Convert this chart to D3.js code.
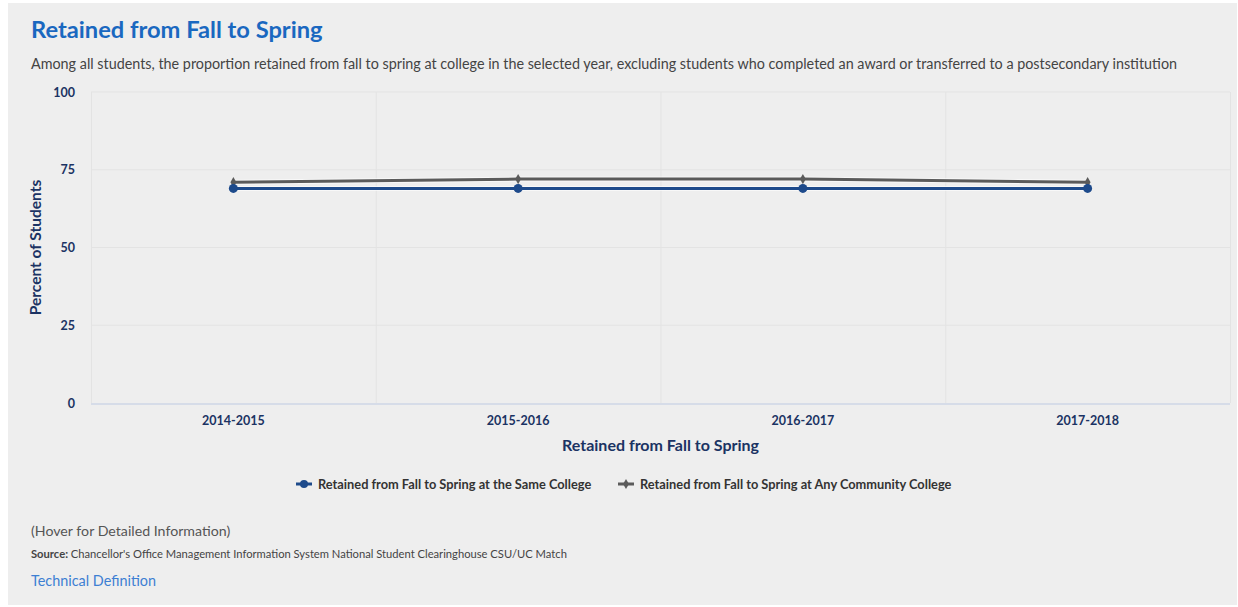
<!DOCTYPE html>
<html>
<head>
<meta charset="utf-8">
<script src="https://cdn.jsdelivr.net/npm/d3@7"></script>
<style>
  body { margin: 0; background: #fff; }
  svg { display: block; font-family: Lato, "Open Sans", sans-serif; }
</style>
</head>
<body>
<svg id="chart"></svg>
<script>
/* DATA */
const years = ["2014-2015", "2015-2016", "2016-2017", "2017-2018"];
const sameCollege = [69, 69, 69, 69];
const anyCollege = [71, 72, 72, 71];
const yTicks = [0, 25, 50, 75, 100];
const seriesNames = [
  "Retained from Fall to Spring at the Same College",
  "Retained from Fall to Spring at Any Community College"
];

/* CONSTANTS */
const width = 1238, height = 607;
const margin = { top: 92, right: 8, bottom: 204, left: 91 };
const navy = "#1b3363";
const blue = "#1d4a8b";
const grey = "#5b5b5b";

const svg = d3.select("#chart")
  .attr("width", width)
  .attr("height", height);

// panel
svg.append("rect")
  .attr("x", 8).attr("y", 3)
  .attr("width", 1229).attr("height", 602)
  .attr("fill", "#eeeeee");

// title + subtitle
svg.append("text")
  .attr("x", 31).attr("y", 38)
  .attr("fill", "#1a68c0")
  .attr("font-size", 23.7).attr("font-weight", 700)
  .text("Retained from Fall to Spring");

svg.append("text")
  .attr("x", 31).attr("y", 69)
  .attr("fill", "#444")
  .attr("font-size", 14.35)
  .text("Among all students, the proportion retained from fall to spring at college in the selected year, excluding students who completed an award or transferred to a postsecondary institution");

/* SCALES */
const xScale = d3.scaleBand()
  .domain(years)
  .range([margin.left, width - margin.right]);

const yScale = d3.scaleLinear()
  .domain([0, 100])
  .range([height - margin.bottom, margin.top]);

// horizontal grid
svg.append("g")
  .selectAll("line")
  .data(yTicks.filter(d => d > 0))
  .join("line")
  .attr("x1", margin.left).attr("x2", width - margin.right)
  .attr("y1", d => yScale(d)).attr("y2", d => yScale(d))
  .attr("stroke", "#e3e3e3");

// vertical grid at band edges
const edges = years.map(d => xScale(d)).concat([xScale.range()[1]]);
svg.append("g")
  .selectAll("line")
  .data(edges)
  .join("line")
  .attr("x1", d => d + 0.5).attr("x2", d => d + 0.5)
  .attr("y1", margin.top).attr("y2", yScale(0))
  .attr("stroke", "#e3e3e3");

// baseline
svg.append("line")
  .attr("x1", margin.left).attr("x2", width - margin.right)
  .attr("y1", yScale(0) + 1).attr("y2", yScale(0) + 1)
  .attr("stroke", "#d6dce8").attr("stroke-width", 2);

/* AXES */
const yAxis = svg.append("g")
  .attr("transform", `translate(${margin.left - 16}, 0)`)
  .call(d3.axisLeft(yScale).tickValues(yTicks).tickSize(0).tickPadding(0));
yAxis.select(".domain").remove();
yAxis.selectAll("text")
  .attr("fill", navy).attr("font-size", 12.5).attr("font-weight", 700)
  .attr("font-family", "Lato, sans-serif");

const xAxis = svg.append("g")
  .attr("transform", `translate(0, ${yScale(0) + 13})`)
  .call(d3.axisBottom(xScale).tickSize(0).tickPadding(0));
xAxis.select(".domain").remove();
xAxis.selectAll("text")
  .attr("fill", navy).attr("font-size", 12.5).attr("font-weight", 700)
  .attr("font-family", "Lato, sans-serif");

// axis labels
svg.append("text")
  .attr("transform", `translate(41, ${(yScale(0) + yScale(100)) / 2}) rotate(-90)`)
  .attr("text-anchor", "middle")
  .attr("fill", navy).attr("font-size", 15.5).attr("font-weight", 700)
  .text("Percent of Students");

svg.append("text")
  .attr("x", (margin.left + width - margin.right) / 2)
  .attr("y", 451)
  .attr("text-anchor", "middle")
  .attr("fill", navy).attr("font-size", 16).attr("font-weight", 700)
  .text("Retained from Fall to Spring");

/* LINES */
const cx = d => xScale(d) + xScale.bandwidth() / 2;
const lineGen = (vals) => d3.line()
  .x((d, i) => cx(years[i]))
  .y(d => yScale(d))(vals);

// grey series
svg.append("path")
  .attr("d", lineGen(anyCollege))
  .attr("fill", "none").attr("stroke", "#fff").attr("stroke-opacity", 0.6)
  .attr("stroke-width", 5);
svg.append("path")
  .attr("d", lineGen(anyCollege))
  .attr("fill", "none").attr("stroke", grey).attr("stroke-width", 3);
svg.append("g")
  .selectAll("path")
  .data(anyCollege)
  .join("path")
  .attr("transform", (d, i) => `translate(${cx(years[i])}, ${yScale(d)})`)
  .attr("d", d3.symbol().type(d3.symbolDiamond).size(30))
  .attr("fill", grey);

// blue series
svg.append("path")
  .attr("d", lineGen(sameCollege))
  .attr("fill", "none").attr("stroke", "#fff").attr("stroke-opacity", 0.6)
  .attr("stroke-width", 5);
svg.append("path")
  .attr("d", lineGen(sameCollege))
  .attr("fill", "none").attr("stroke", blue).attr("stroke-width", 3);
svg.append("g")
  .selectAll("circle")
  .data(sameCollege)
  .join("circle")
  .attr("cx", (d, i) => cx(years[i]))
  .attr("cy", d => yScale(d))
  .attr("r", 4.5)
  .attr("fill", blue);

/* LEGEND */
const legend = svg.append("g");
const legendX = [296, 618];
const legendColors = [blue, grey];
seriesNames.forEach((name, i) => {
  const g = legend.append("g").attr("transform", `translate(${legendX[i]}, 484)`);
  g.append("line")
    .attr("x1", 0).attr("x2", 16)
    .attr("stroke", legendColors[i]).attr("stroke-width", 3);
  if (i === 0) {
    g.append("circle").attr("cx", 8).attr("r", 4).attr("fill", blue);
  } else {
    g.append("path").attr("transform", "translate(8,0)")
      .attr("d", d3.symbol().type(d3.symbolDiamond).size(30))
      .attr("fill", grey);
  }
  g.append("text")
    .attr("x", 22).attr("y", 4.5)
    .attr("fill", "#333").attr("font-size", 12.8).attr("font-weight", 700)
    .text(name);
});

/* FOOTER */
svg.append("text")
  .attr("x", 31).attr("y", 536)
  .attr("fill", "#555").attr("font-size", 14.2)
  .text("(Hover for Detailed Information)");

const src = svg.append("text")
  .attr("x", 31).attr("y", 558)
  .attr("fill", "#444").attr("font-size", 11.2);
src.append("tspan").attr("font-weight", 700).text("Source: ");
src.append("tspan").text("Chancellor's Office Management Information System National Student Clearinghouse CSU/UC Match");

svg.append("text")
  .attr("x", 31).attr("y", 586)
  .attr("fill", "#3d7fd3").attr("font-size", 14.4)
  .text("Technical Definition");
</script>
</body>
</html>
